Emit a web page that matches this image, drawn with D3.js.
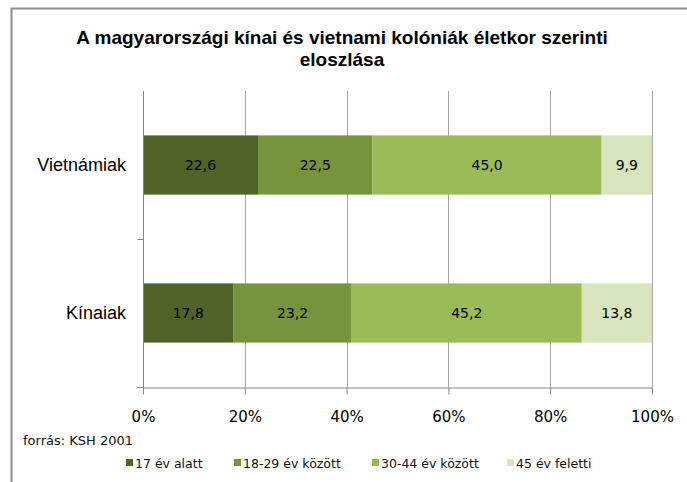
<!DOCTYPE html>
<html>
<head>
<meta charset="utf-8">
<script src="https://cdn.jsdelivr.net/npm/d3@7"></script>
<style>
  body { margin: 0; background: #fff; }
  svg { display: block; }
</style>
</head>
<body>
<div id="chart"></div>
<script>
// data
const categories = ['Vietnámiak', 'Kínaiak'];
const seriesNames = ['17 év alatt', '18-29 év között', '30-44 év között', '45 év feletti'];
const vietnamValues = [22.6, 22.5, 45.0, 9.9];
const chinaValues = [17.8, 23.2, 45.2, 13.8];
const tickValues = [0, 0.2, 0.4, 0.6, 0.8, 1];
const colors = ['#4f6228', '#77933c', '#9bbb59', '#d7e4bd'];

const width = 687, height = 482;
const margin = { left: 143, right: 35, top: 91, bottom: 95 };

const svg = d3.select('#chart').append('svg')
    .attr('width', width)
    .attr('height', height);

// outer frame (cropped at right/bottom)
svg.append('path')
    .attr('d', `M11.5,${height} V8.5 H${width}`)
    .attr('fill', 'none')
    .attr('stroke', '#8c8c8c')
    .attr('stroke-width', 2);

// title
const title = svg.append('text')
    .attr('text-anchor', 'middle')
    .attr('font-family', 'Liberation Sans, Arial, sans-serif')
    .attr('font-weight', 'bold')
    .attr('font-size', 19)
    .attr('fill', '#000');
title.append('tspan').attr('x', 342).attr('y', 44)
    .text('A magyarországi kínai és vietnami kolóniák életkor szerinti');
title.append('tspan').attr('x', 342).attr('y', 66)
    .text('eloszlása');

const rows = [vietnamValues, chinaValues].map((vals, i) => {
  const total = d3.sum(vals);
  let acc = 0;
  return vals.map((v, j) => {
    const d = { cat: categories[i], series: j, value: v, x0: acc / total };
    acc += v;
    d.x1 = acc / total;
    return d;
  });
});

const x = d3.scaleLinear()
    .domain([0, 1])
    .range([margin.left, width - margin.right]);

const y = d3.scaleBand()
    .domain(categories)
    .range([margin.top, height - margin.bottom])
    .paddingInner(0.6)
    .paddingOuter(0.3);

const plotTop = margin.top, plotBottom = height - margin.bottom;

// gridlines
svg.append('g')
  .selectAll('line')
  .data(tickValues.slice(1))
  .enter().append('line')
    .attr('x1', d => Math.round(x(d)) + 0.5)
    .attr('x2', d => Math.round(x(d)) + 0.5)
    .attr('y1', plotTop)
    .attr('y2', plotBottom)
    .attr('stroke', '#a6a6a6')
    .attr('stroke-width', 1);

// bars
const barG = svg.append('g');
rows.forEach(row => {
  barG.selectAll(null)
    .data(row)
    .enter().append('rect')
      .attr('x', d => x(d.x0))
      .attr('y', d => y(d.cat))
      .attr('width', d => x(d.x1) - x(d.x0))
      .attr('height', y.bandwidth())
      .attr('fill', d => colors[d.series]);

  barG.selectAll(null)
    .data(row)
    .enter().append('text')
      .attr('x', d => (x(d.x0) + x(d.x1)) / 2)
      .attr('y', d => y(d.cat) + y.bandwidth() / 2)
      .attr('dy', '0.36em')
      .attr('text-anchor', 'middle')
      .attr('font-family', 'DejaVu Sans, Tahoma, sans-serif')
      .attr('font-size', 14)
      .attr('fill', '#000')
      .text(d => d3.format('.1f')(d.value).replace('.', ','));
});

// y axis
const yAxisX = Math.round(x(0)) + 0.5;
svg.append('line')
    .attr('x1', yAxisX).attr('x2', yAxisX)
    .attr('y1', plotTop).attr('y2', plotBottom + 7)
    .attr('stroke', '#868686');
// category boundary ticks
svg.append('g')
  .selectAll('line')
  .data([0.5 * (y('Vietnámiak') + y.bandwidth() + y('Kínaiak')), plotBottom])
  .enter().append('line')
    .attr('x1', yAxisX - 6).attr('x2', yAxisX)
    .attr('y1', d => Math.round(d) + 0.5)
    .attr('y2', d => Math.round(d) + 0.5)
    .attr('stroke', '#868686');

// category labels
svg.append('g')
  .selectAll('text')
  .data(categories)
  .enter().append('text')
    .attr('x', 126)
    .attr('y', d => y(d) + y.bandwidth() / 2)
    .attr('dy', '0.36em')
    .attr('text-anchor', 'end')
    .attr('font-family', 'Liberation Sans, Arial, sans-serif')
    .attr('font-size', 18)
    .attr('fill', '#000')
    .text(d => d);

// x axis
const xAxis = d3.axisBottom(x)
    .tickValues(tickValues)
    .tickFormat(d3.format('.0%'))
    .tickSize(7)
    .tickSizeOuter(0);

const xg = svg.append('g')
    .attr('transform', `translate(0,${Math.round(plotBottom) + 0.5})`)
    .call(xAxis);
xg.select('.domain').attr('stroke', '#868686');
xg.selectAll('.tick line').attr('stroke', '#868686');
xg.selectAll('.tick text')
    .attr('y', 24)
    .attr('font-family', 'DejaVu Sans, Tahoma, sans-serif')
    .attr('font-size', 15)
    .attr('fill', '#000');

// source note
svg.append('text')
    .attr('x', 23)
    .attr('y', 445)
    .attr('font-family', 'DejaVu Sans, Tahoma, sans-serif')
    .attr('font-size', 13)
    .attr('fill', '#111')
    .text('forrás: KSH 2001');

// legend
const legendX = [126, 234, 372, 507];
const legend = svg.append('g')
  .selectAll('g')
  .data(seriesNames)
  .enter().append('g')
    .attr('transform', (d, i) => `translate(${legendX[i]},463)`);
legend.append('rect')
    .attr('x', 0).attr('y', -4)
    .attr('width', 7).attr('height', 7)
    .attr('fill', (d, i) => colors[i]);
legend.append('text')
    .attr('x', 9)
    .attr('dy', '0.36em')
    .attr('font-family', 'DejaVu Sans, Tahoma, sans-serif')
    .attr('font-size', 12.5)
    .attr('fill', '#111')
    .text(d => d);
</script>
</body>
</html>
